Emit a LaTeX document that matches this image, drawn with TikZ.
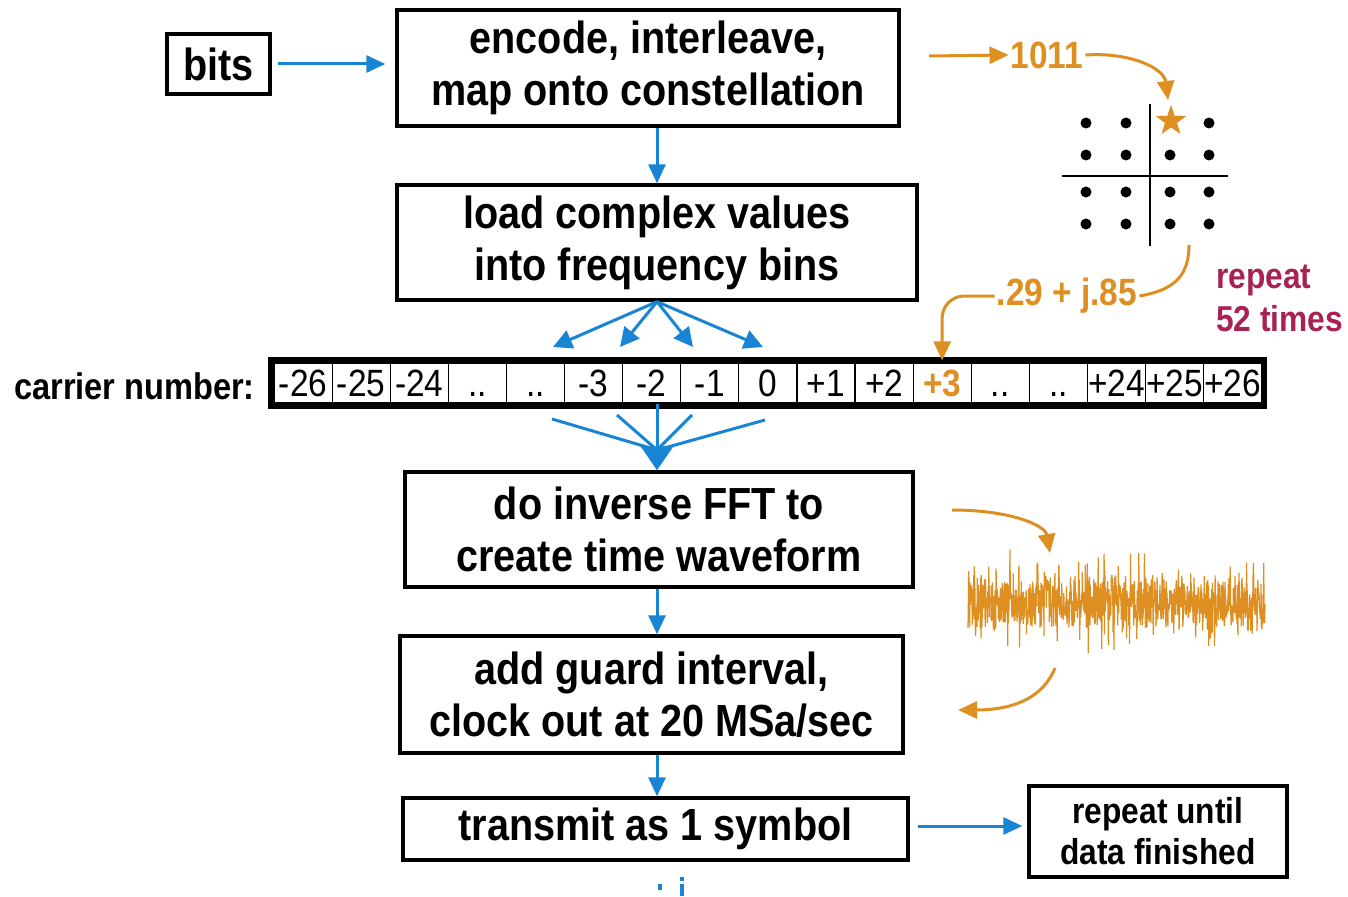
\documentclass[tikz,border=0pt]{standalone}
\usepackage{fontspec}
\setmainfont{Liberation Sans}[FakeStretch=0.88]
\usetikzlibrary{positioning, arrows.meta, shapes.geometric, calc}
\definecolor{flowblue}{RGB}{24,132,212}
\definecolor{sigorange}{RGB}{222,143,34}
\definecolor{repred}{RGB}{168,34,84}

\begin{document}
\begin{tikzpicture}[
  x=1pt, y=-1pt,
  proc/.style={draw, line width=3.4pt, align=center, inner sep=0pt,
               font=\fontsize{45}{52}\selectfont\bfseries},
  cell/.style={draw, line width=1.2pt, minimum width=58.1pt, minimum height=40pt,
               inner sep=0pt, text height=27pt, text depth=0pt,
               font=\fontsize{38}{40}\selectfont},
  hotcell/.style={cell, text=sigorange, font=\fontsize{38}{40}\selectfont\bfseries},
  arr/.style={-{Triangle[length=19pt, width=17pt]}, line width=3pt, color=flowblue},
  bigarr/.style={-{Triangle[length=24pt, width=32pt]}, line width=3pt, color=flowblue},
  fanline/.style={line width=3pt, color=flowblue},
  oarr/.style={-{Triangle[length=19pt, width=17pt]}, line width=3pt, color=sigorange},
  oline/.style={line width=3pt, color=sigorange},
  olbl/.style={text=sigorange, font=\fontsize{38}{40}\selectfont\bfseries, inner sep=2pt},
]
\useasboundingbox (0,0) rectangle (1348,896);

% Processing chain
\node[proc, minimum width=103pt, minimum height=60pt] (bits) at (218.5,64) {bits};
\node[proc, minimum width=502pt, minimum height=116pt] (enc) at (648,68)
  {encode, interleave,\\map onto constellation};
\node[proc, minimum width=520pt, minimum height=115pt] (load) at (657,242.5)
  {load complex values\\into frequency bins};
\node[proc, minimum width=508pt, minimum height=115pt] (ifft) at (659,529.5)
  {do inverse FFT to\\create time waveform};
\node[proc, minimum width=503pt, minimum height=117pt] (guard) at (651.5,694.5)
  {add guard interval,\\clock out at 20 MSa/sec};
\node[proc, minimum width=505pt, minimum height=62pt] (tx) at (655.5,829)
  {transmit as 1 symbol};
\node[proc, minimum width=258pt, minimum height=91pt,
      font=\fontsize{36}{41}\selectfont\bfseries] (rep) at (1158,831.5)
  {repeat until\\data finished};

% Carrier strip
\node[font=\fontsize{37}{40}\selectfont\bfseries, inner sep=0pt, anchor=east] (cnum)
  at (255,386) {carrier number:};
\foreach \lab/\sty [count=\i] in {-26/cell,-25/cell,-24/cell,../cell,../cell,-3/cell,-2/cell,
    -1/cell,0/cell,+1/cell,+2/cell,+3/hotcell,../cell,../cell,+24/cell,+25/cell,+26/cell}
  \node[\sty] (c\i) at ({274+58.1*(\i-0.5)},383) {\lab};
\draw[line width=5pt] ($(c1.north west)+(-2.5,-2.5)$) rectangle ($(c17.south east)+(2.5,2.5)$);

% Spine for the vertical arrows
\coordinate (spine) at (657,0);
\draw[arr, shorten <=6pt, shorten >=10pt] (bits.east) -- (bits.east -| enc.west);
\draw[arr] (enc.south -| spine) -- (load.north -| spine);
\draw[arr] (ifft.south -| spine) -- (guard.north -| spine);
\draw[arr] (guard.south -| spine) -- (tx.north -| spine);
\draw[arr, shorten <=8pt, shorten >=5pt] ($(tx.east)+(0,-3)$) -- ($(tx.east -| rep.west)+(0,-3)$);

% Fan into the bins
\foreach \tx [count=\k] in {553,620,693,763}
  \coordinate (t\k) at (\tx,347);
\foreach \k in {1,...,4}
  \draw[arr, -{Triangle[length=19pt, width=19pt]}] (load.south) -- (t\k);

% Fan out of the bins
\coordinate (hub) at (657,450);
\foreach \bx/\by [count=\k] in {552/419,617/415,692/415,765/420}
  \coordinate (b\k) at (\bx,\by);
\foreach \k in {1,...,4}
  \draw[fanline] (b\k) -- (hub);
\draw[bigarr] (c7.south -| spine) -- (ifft.north -| spine);

% Constellation
\coordinate (encout) at (929,56);
\node[olbl] (v1011) at (1047,55) {1011};
\draw[oarr] (encout) -- (v1011.west);
\coordinate (cstTop) at (1168,100);
\draw[oarr] (v1011.east) .. controls (1130,52) and (1164,68) .. (cstTop);
\draw[line width=1.8pt] (1150,104) -- (1150,246);
\draw[line width=1.8pt] (1062,176) -- (1228,176);
\foreach \dx in {1086,1126,1209}
  \fill (\dx,123) circle (5.5);
\foreach \dx in {1086,1126,1170,1209}
  \foreach \dy in {155,192,224}
    \fill (\dx,\dy) circle (5.5);
\node[star, star points=5, star point ratio=2.5, fill=sigorange, minimum size=32pt,
      inner sep=0pt] (pt) at (1171,121) {};

\node[olbl] (vcplx) at (1067,296) {.29 + j.85};
\coordinate (cstOut) at (1189,245);
\draw[oline] (vcplx.east) .. controls (1175,290) and (1189,275) .. (cstOut);
\draw[oarr, rounded corners=22pt, shorten >=2pt] (vcplx.west) -| (c12.north);
\node[text=repred, font=\fontsize{36}{43}\selectfont\bfseries, align=left, anchor=west,
      inner sep=0pt] (rep52) at (1216,298) {repeat\\52 times};

% Time waveform
\pgfmathsetseed{42}
\draw[sigorange, line width=1.2pt, line join=bevel]
  plot[domain=968:1265, samples=900] (\x,{603+24*rand+48*rand*rand*rand});
\coordinate (wIn) at (952,510);
\coordinate (wInEnd) at (1050,553);
\draw[oarr] (wIn) .. controls (1010,510) and (1045,525) .. (wInEnd);
\coordinate (wOut) at (1055,668);
\coordinate (wOutEnd) at (958,710);
\draw[oarr] (wOut) .. controls (1040,705) and (1000,710) .. (wOutEnd);

% Antenna (cut off)
\fill[flowblue] (658,884) rectangle (662,890);
\fill[flowblue] (680,877) rectangle (684,881);
\fill[flowblue] (680,884) rectangle (684,896);

\end{tikzpicture}
\end{document}
